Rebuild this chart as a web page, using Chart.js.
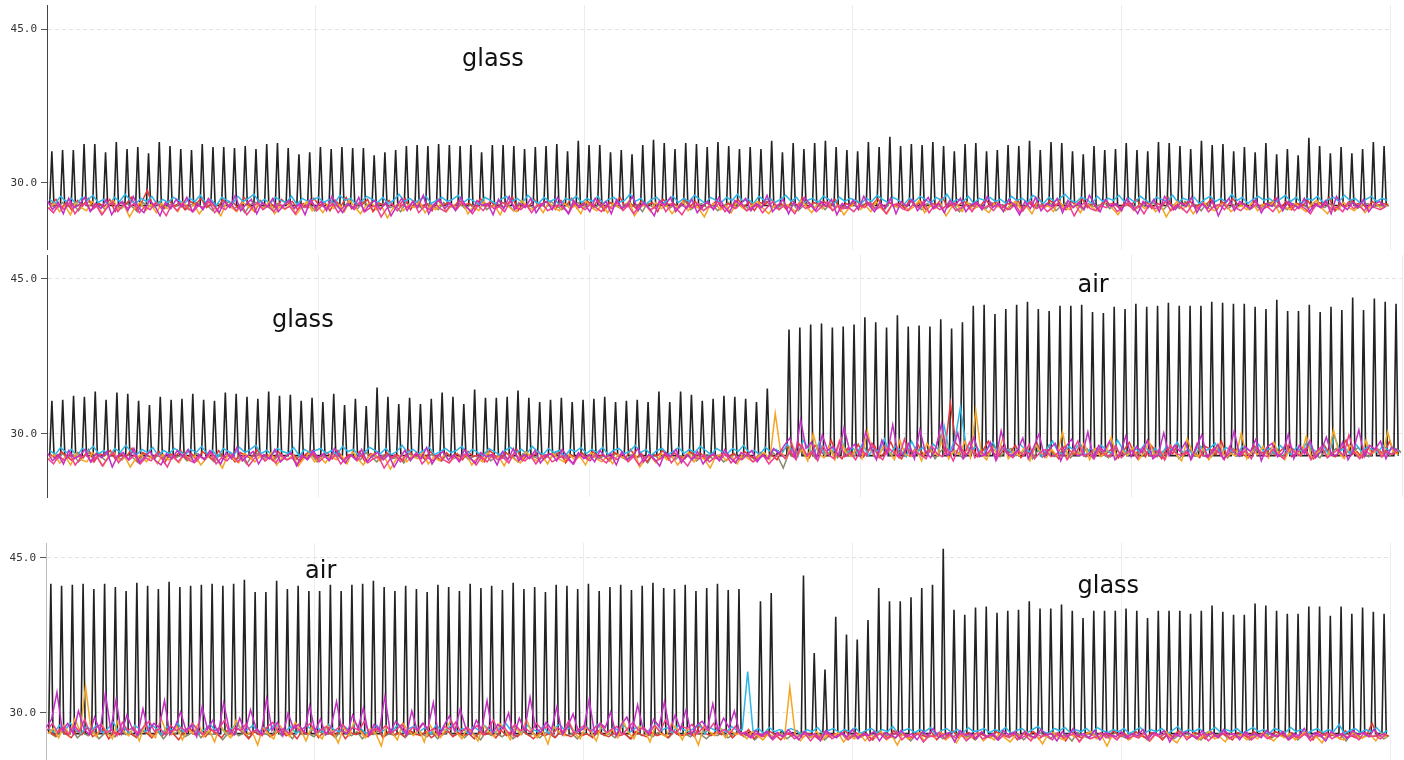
<!DOCTYPE html>
<html><head><meta charset="utf-8">
<script src="https://cdn.jsdelivr.net/npm/chart.js"></script>
<style>
html,body{margin:0;padding:0;background:#fff;width:1404px;height:760px;overflow:hidden;}
.panel{position:absolute;left:0;width:1404px;}
</style></head><body>
<div class="panel" style="top:0;height:250px"><canvas id="c1"></canvas></div>
<div class="panel" style="top:250px;height:250px"><canvas id="c2"></canvas></div>
<div class="panel" style="top:520px;height:240px"><canvas id="c3"></canvas></div>
<script>
// ---------- DATA ----------
const yTickValues = [30, 45];
const periods = 125;          // heating cycles per panel
const samplesPerCycle = 2;    // coloured channels are sampled twice per cycle

// black series: spike peak per cycle (cycles without a spike keep the baseline value)
const p1Black = [33.1,33.2,33.2,33.8,33.8,33.0,34.0,33.3,33.5,32.9,34.0,33.6,33.3,33.2,33.8,33.5,33.5,33.4,33.6,33.3,33.8,33.9,33.4,32.8,33.0,
33.5,33.3,33.5,33.4,33.4,32.7,33.0,33.2,33.6,33.7,33.6,33.8,33.7,33.6,33.7,33.0,33.7,33.7,33.6,33.3,33.5,33.6,33.8,33.1,34.1,
33.7,33.7,33.0,33.2,32.8,33.7,34.2,33.9,33.3,33.9,33.8,33.5,34.0,33.6,33.3,33.5,33.3,34.1,33.0,33.9,33.3,33.9,34.1,33.5,33.2,
33.1,34.0,33.5,34.5,33.6,33.8,33.7,34.0,33.6,33.1,33.8,33.9,33.1,33.2,33.7,33.6,34.1,33.2,34.0,33.9,33.1,32.8,33.6,33.2,33.3,
33.9,33.2,33.1,34.0,33.9,33.6,33.3,34.1,33.7,33.8,33.1,33.5,33.0,33.9,32.8,33.3,32.7,34.4,33.6,32.9,33.5,32.9,33.3,34.0,33.6];
const p2Black = [33.2,33.3,33.7,33.6,34.1,33.3,34.0,33.9,33.2,32.8,33.6,33.3,33.4,33.9,33.3,33.2,34.0,33.9,33.6,33.4,34.1,33.7,33.8,33.2,33.5,
33.1,33.9,32.8,33.4,32.7,34.5,33.6,32.9,33.5,32.9,33.4,34.0,33.6,32.9,34.3,33.5,33.5,33.6,34.2,33.5,33.1,33.3,33.5,33.1,33.3,
33.4,33.6,33.1,33.2,33.3,33.1,34.1,33.1,34.1,33.8,33.2,33.4,33.7,33.6,33.4,33.1,34.4,28.3,40.1,40.3,40.6,40.7,40.3,40.4,40.6,
41.3,40.8,40.3,41.5,40.4,40.5,40.4,41.1,40.2,40.8,42.4,42.5,41.6,42.1,42.5,42.8,42.1,41.9,42.4,42.4,42.5,41.8,41.7,42.3,42.1,
42.6,42.3,42.4,42.7,42.4,42.4,42.4,42.8,42.7,42.6,42.6,42.3,42.1,43.0,41.9,41.9,42.5,41.8,42.3,42.0,43.2,42.0,43.1,42.8,42.6];
const p3Black = [42.5,42.3,42.4,42.5,42.0,42.5,42.2,41.8,42.6,42.3,42.0,42.7,42.2,42.3,42.4,42.5,42.3,42.5,42.9,41.7,41.7,42.8,42.0,42.3,41.8,
41.8,42.4,41.8,42.4,42.5,42.8,42.2,41.8,42.3,42.0,41.7,42.4,42.2,41.8,42.5,42.1,42.3,41.9,42.6,42.0,42.2,41.7,42.4,42.3,42.0,
42.5,41.8,42.2,42.4,41.9,42.3,42.6,42.1,42.0,42.4,41.8,42.1,42.5,41.9,42.0,28.2,40.8,41.6,28.3,28.1,43.3,35.8,34.2,39.3,37.6,
37.1,39.0,42.1,40.8,40.8,41.2,42.1,42.4,45.9,40.0,39.5,40.2,40.3,39.7,39.9,40.0,40.8,40.1,40.1,40.5,39.9,39.2,39.9,39.9,39.9,
40.1,39.9,39.2,39.9,39.9,39.9,39.6,39.9,40.4,39.8,39.5,39.5,40.6,40.4,39.9,39.6,39.6,40.3,40.3,39.4,40.3,39.6,40.2,39.8,39.6];
const p1Base = 27.8, p2Base = 27.9, p3Base = 28.0;

// ---- panel 1 (glass) coloured channels ----
const p1Magenta = [28.3,27.4,28.1,27.0,28.5,27.6,27.9,28.6,27.2,28.0,27.5,28.4,26.9,27.8,28.2,27.3,28.7,27.6,27.1,28.3,27.8,26.8,28.1,27.5,28.4,
27.7,28.6,27.2,28.0,27.4,28.5,27.9,27.1,28.2,27.6,28.8,27.3,27.9,28.4,27.0,28.1,27.7,28.5,27.2,27.8,28.3,27.5,28.0,26.9,28.4,
27.6,28.2,27.3,28.7,27.8,27.1,28.0,27.5,28.6,27.2,27.9,28.3,27.4,28.1,26.8,27.7,28.5,27.3,28.2,27.6,28.8,27.0,27.9,28.4,27.5,
28.1,27.3,28.6,27.7,27.2,28.3,27.8,28.0,26.9,28.4,27.5,28.7,27.4,28.0,27.6,28.5,27.1,27.9,28.2,27.4,28.6,27.8,27.0,28.3,27.6,
28.0,27.2,28.5,27.7,28.2,27.0,28.4,27.5,27.9,28.7,27.3,28.1,27.6,26.8,28.3,27.8,28.6,27.2,28.0,27.5,28.4,27.1,27.8,28.2,27.4,
28.6,27.7,27.1,28.3,27.9,28.5,27.3,28.0,27.6,28.8,27.2,27.8,28.4,27.0,28.1,27.5,28.6,27.9,27.3,28.2,27.7,28.4,26.9,28.0,27.6,
28.3,27.4,28.7,27.8,27.2,28.1,27.6,28.5,27.0,28.2,27.7,28.4,27.3,27.9,28.6,27.5,28.0,27.1,28.3,27.8,28.5,27.2,27.9,28.1,27.4,
28.7,27.6,28.0,27.2,28.4,27.8,26.9,28.2,27.5,28.6,27.3,28.0,27.7,28.5,27.1,28.3,27.6,28.1,27.4,28.8,27.9,27.2,28.4,27.7,28.0,
27.3,28.5,27.8,27.0,28.2,27.6,28.4,27.2,28.7,27.9,27.4,28.1,27.7,28.6,27.1,28.0,27.5,28.3,26.8,27.9,28.5,27.3,28.2,27.8,27.5,
28.4,27.1,28.0,27.7,28.6,27.3,28.2,27.9,27.5,28.5,27.2,28.0,27.6,28.3,27.0,28.7,27.8,27.4,28.1,27.6,28.4,27.2,27.9,28.2,27.7];
const p1Orange = [27.5,28.0,27.2,27.8,26.9,28.1,27.6,27.3,28.2,27.7,27.0,27.9,28.3,27.4,27.8,26.7,27.6,28.1,27.3,27.9,27.1,28.0,27.5,27.8,27.2,
28.2,27.4,27.9,27.0,27.7,28.3,27.5,26.8,28.0,27.6,27.2,28.1,27.8,27.3,27.9,27.5,28.2,27.0,27.7,27.4,28.0,26.9,27.6,28.2,27.3,
27.8,27.1,28.0,27.5,27.9,27.2,28.3,27.6,27.0,27.8,28.1,27.4,27.7,26.6,27.5,28.0,27.3,27.9,27.6,28.2,27.1,27.8,27.4,28.0,27.2,
27.9,27.5,28.1,27.0,27.7,27.3,28.2,27.6,27.8,26.9,28.0,27.5,27.2,28.3,27.7,27.4,27.9,27.1,28.1,27.6,27.3,28.0,27.5,27.8,27.0,
28.2,27.6,27.3,27.9,27.1,28.0,27.7,27.4,28.3,26.8,27.6,27.9,27.2,28.1,27.5,27.8,27.0,27.7,28.2,27.3,27.9,27.5,26.7,27.8,28.0,
27.4,27.8,27.1,28.1,27.6,27.3,27.9,28.2,27.5,27.0,27.8,27.4,28.0,27.6,27.2,28.3,27.7,27.1,27.9,27.5,28.1,27.3,27.8,26.9,27.6,
28.0,27.4,27.8,27.2,28.2,27.5,27.0,27.9,27.6,28.1,27.3,27.7,28.3,27.1,27.8,27.5,28.0,26.8,27.6,27.9,27.2,28.1,27.4,27.8,27.5,
27.1,28.0,27.6,27.3,27.9,28.2,27.4,27.7,27.0,28.1,27.5,27.8,27.2,28.3,27.6,27.4,27.9,27.1,28.0,27.7,27.3,27.8,28.2,27.5,26.9,
27.7,28.1,27.3,27.9,27.5,28.0,27.2,27.8,26.7,27.6,28.2,27.4,27.9,27.0,27.7,28.1,27.5,27.3,27.9,28.0,27.2,27.6,27.8,27.4,28.1,
27.3,27.9,27.6,28.2,27.1,27.7,27.4,28.0,27.6,27.2,27.9,28.3,27.5,27.0,27.8,27.4,28.1,27.6,27.3,27.9,27.1,27.7,28.0,27.5,27.8];
const p1Cyan = [28.4,28.0,28.7,28.2,28.5,27.9,28.6,28.3,28.8,28.1,28.4,27.8,28.6,28.2,28.9,28.3,28.0,28.5,28.2,28.7,27.9,28.4,28.1,28.6,28.3,
28.0,28.5,28.2,28.8,28.1,28.4,27.8,28.6,28.3,28.0,28.7,28.2,28.5,28.9,28.1,28.4,28.0,28.6,28.3,28.1,28.7,27.9,28.5,28.2,28.4,
28.6,28.1,28.4,28.0,28.8,28.3,28.5,27.9,28.2,28.7,28.4,28.1,28.6,28.0,28.3,28.9,28.2,28.5,28.1,28.4,28.7,28.0,28.3,28.6,28.2,
28.4,28.8,28.1,28.5,28.2,27.9,28.6,28.3,28.0,28.4,28.7,28.2,28.5,28.1,28.8,28.3,28.0,28.6,28.2,28.4,27.8,28.5,28.3,28.7,28.1,
28.5,28.2,28.7,28.0,28.4,28.6,28.1,28.3,28.9,28.2,28.5,27.9,28.4,28.6,28.0,28.3,28.7,28.1,28.5,28.2,28.8,28.4,28.0,28.6,28.3,
28.1,28.6,28.3,28.9,28.2,28.4,28.0,28.7,28.3,28.5,28.1,28.4,28.8,28.2,28.6,27.9,28.3,28.5,28.1,28.7,28.4,28.0,28.6,28.2,28.5,
28.3,28.0,28.5,28.2,28.8,28.4,28.1,28.6,28.3,27.9,28.5,28.2,28.7,28.4,28.0,28.6,28.3,28.9,28.1,28.4,28.2,28.7,28.0,28.5,28.3,
28.6,28.2,28.4,28.0,28.7,28.3,28.5,28.1,28.8,28.4,28.0,28.6,28.2,28.5,28.9,28.3,28.1,28.6,28.4,28.0,28.7,28.2,28.5,28.3,28.8,
28.2,28.5,28.1,28.7,28.3,28.0,28.6,28.4,28.2,28.8,28.1,28.5,28.3,28.6,28.0,28.4,28.7,28.2,28.5,28.1,28.9,28.3,28.6,28.0,28.4,
28.7,28.3,28.5,28.1,28.4,28.8,28.2,28.6,28.0,28.5,28.3,28.7,28.1,28.4,28.6,28.2,28.8,28.3,28.5,28.0,28.4,28.7,28.2,28.5,28.3];
const p1Red = [27.9,28.4,27.6,28.1,27.3,28.3,27.8,28.5,27.5,28.0,27.7,28.4,27.2,28.1,27.9,28.6,27.4,28.2,29.3,27.8,28.0,27.5,28.3,27.7,28.1,
27.4,28.2,27.9,28.5,27.6,28.0,27.3,28.4,27.8,28.1,27.5,28.6,27.9,27.2,28.3,27.7,28.0,27.5,28.4,27.9,28.2,27.4,28.0,27.6,28.5,
27.8,28.1,27.3,28.3,27.7,28.6,27.5,28.0,27.9,28.4,27.2,28.1,27.8,28.3,27.6,27.9,28.5,27.4,28.2,27.7,28.0,27.3,28.4,27.8,28.1,
27.6,28.3,27.9,28.0,27.4,28.5,27.8,28.2,27.5,28.1,27.9,28.6,27.3,28.0,27.7,28.4,27.6,28.2,27.9,27.4,28.3,27.8,28.5,27.5,28.0,
28.2,27.7,28.4,27.3,28.1,27.9,28.6,27.6,28.0,27.5,28.3,27.8,28.1,27.2,28.4,27.9,28.0,27.6,28.5,27.7,28.2,27.4,28.1,27.8,28.3,
27.5,28.0,27.8,28.4,27.6,28.2,27.3,28.1,27.9,28.5,27.7,28.0,27.4,28.3,27.8,28.6,27.5,28.1,27.9,28.2,27.6,28.4,27.3,28.0,27.8,
28.3,27.6,28.1,27.9,28.5,27.4,28.2,27.7,28.0,27.5,28.4,27.8,28.2,27.3,28.0,27.9,28.6,27.6,28.1,27.8,28.3,27.5,28.0,27.7,28.4,
27.8,28.2,27.5,28.0,27.9,28.4,27.3,28.1,27.7,28.5,27.6,28.3,27.9,28.0,27.4,28.2,27.8,28.5,27.6,28.1,27.3,28.3,27.9,28.0,27.5,
28.1,27.7,28.4,27.9,28.2,27.5,28.0,27.8,28.6,27.4,28.1,27.9,28.3,27.6,28.0,27.8,28.4,27.3,28.2,27.7,28.5,27.9,28.0,27.6,28.3,
27.7,28.0,27.9,28.5,27.6,28.2,27.4,28.0,27.8,28.3,27.5,28.1,27.9,28.6,27.3,28.0,27.7,28.4,27.9,28.1,27.5,28.2,27.8,28.0,27.9];
const p1Gray = [27.8,27.5,28.1,27.7,28.0,27.3,27.9,28.2,27.6,27.9,27.4,28.1,27.8,27.5,28.0,27.7,27.2,28.1,27.8,27.6,28.2,27.5,27.9,27.7,28.0,
27.4,27.9,28.1,27.6,27.8,27.3,28.0,27.7,28.2,27.5,27.8,27.1,27.9,28.1,27.6,27.8,27.4,28.0,27.7,28.2,27.5,27.9,27.6,28.0,27.3,
27.9,27.6,28.1,27.8,27.4,28.0,27.7,27.5,28.2,27.8,27.3,27.9,28.0,27.6,27.8,27.2,28.1,27.7,27.9,27.5,28.0,27.8,27.4,28.1,27.6,
27.8,28.0,27.5,27.9,27.7,28.2,27.4,27.8,28.0,27.6,27.9,27.3,28.1,27.7,27.8,27.5,28.0,27.6,28.2,27.8,27.4,27.9,27.7,28.1,27.5,
28.0,27.6,27.9,27.4,28.1,27.8,27.5,28.0,27.7,27.9,27.2,28.1,27.6,27.8,28.0,27.5,27.9,27.7,28.2,27.4,27.8,28.0,27.6,27.9,27.3,
27.7,28.1,27.5,27.9,27.8,27.4,28.0,27.6,28.2,27.8,27.5,27.9,27.7,28.0,27.3,27.8,28.1,27.6,27.9,27.4,28.0,27.7,27.8,27.5,28.1,
27.6,27.9,28.0,27.5,27.8,27.3,28.1,27.7,27.9,27.6,28.2,27.8,27.4,28.0,27.7,27.9,27.5,28.1,27.8,27.2,27.9,28.0,27.6,27.8,27.5,
28.1,27.7,27.9,27.4,28.0,27.8,27.6,28.2,27.5,27.9,27.7,28.0,27.3,27.8,28.1,27.6,27.9,27.4,28.0,27.7,27.8,28.1,27.5,27.9,27.6,
27.8,28.0,27.5,27.9,27.6,28.1,27.7,27.4,28.0,27.8,27.5,28.2,27.7,27.9,27.3,28.0,27.6,27.8,28.1,27.5,27.9,27.7,28.0,27.4,27.8,
27.5,27.9,28.1,27.6,27.8,27.4,28.0,27.7,27.9,27.5,28.1,27.8,27.6,28.0,27.3,27.9,27.7,28.2,27.5,27.8,28.0,27.6,27.9,27.7,27.8];
const p1Pink = [27.6,27.1,27.9,27.4,28.1,27.0,27.7,28.0,27.3,27.8,26.9,27.6,28.2,27.2,27.9,27.5,28.0,27.1,27.7,27.4,28.1,27.6,26.8,27.9,27.3,
28.0,27.5,27.2,27.8,27.6,28.2,27.1,27.7,27.4,28.0,27.3,27.9,26.9,27.6,28.1,27.4,27.8,27.2,28.0,27.5,27.7,27.0,27.9,27.6,28.2,
27.3,27.8,27.5,28.0,27.1,27.7,27.9,27.4,28.1,27.2,27.6,27.8,26.7,27.5,28.0,27.3,27.9,27.6,28.2,27.1,27.7,27.4,28.0,27.5,27.2,
27.9,27.4,28.1,27.6,27.0,27.8,27.3,28.0,27.5,27.7,27.2,28.2,27.6,27.4,27.9,27.1,27.8,28.0,27.3,27.6,27.9,27.5,27.1,28.1,27.7,
27.4,28.0,27.6,27.2,27.9,27.5,28.1,27.3,27.8,27.0,27.7,28.0,27.4,27.6,28.2,27.2,27.9,27.5,26.9,27.8,27.6,28.0,27.3,27.7,27.5,
28.1,27.2,27.8,27.5,28.0,27.3,27.6,27.9,27.1,27.7,28.2,27.4,27.8,27.6,27.0,28.0,27.5,27.9,27.2,27.7,28.1,27.3,27.8,27.5,27.6,
27.2,27.9,27.6,28.1,27.4,27.7,27.0,27.8,28.0,27.5,27.3,27.9,27.6,28.2,27.1,27.8,27.4,27.7,28.0,27.3,27.6,27.9,27.2,28.1,27.5,
27.8,27.3,28.0,27.6,27.4,27.9,27.1,27.7,28.2,27.5,27.8,27.2,27.6,28.0,27.4,27.9,26.8,27.7,28.1,27.5,27.3,27.8,27.6,28.0,27.2,
27.6,28.1,27.4,27.8,27.0,27.9,27.5,27.7,28.2,27.3,27.8,27.6,27.1,27.9,27.5,28.0,27.2,27.7,27.9,27.4,28.1,27.6,27.3,27.8,27.5,
28.0,27.4,27.7,27.2,27.9,27.6,28.1,27.3,27.8,27.5,27.0,27.9,27.6,28.0,27.4,27.7,27.2,28.1,27.5,27.8,27.3,27.9,27.6,27.4,27.7];

// ---- panel 2 (glass -> air) ----
const p2Magenta = [28.2,27.4,28.0,27.1,28.4,27.6,27.9,28.5,27.3,28.1,27.7,28.3,26.8,27.9,28.2,27.5,28.6,27.2,27.8,28.3,27.4,27.0,28.1,27.6,28.4,
27.8,28.5,27.3,28.0,27.5,28.4,27.8,27.1,28.2,27.6,28.7,27.4,27.9,28.3,27.1,28.0,27.6,28.5,27.3,27.8,28.2,26.9,28.0,27.5,28.4,
27.7,28.1,27.4,28.6,27.8,27.2,28.0,27.5,28.5,27.3,27.9,28.2,27.5,28.0,26.8,27.7,28.4,27.4,28.1,27.6,28.7,27.1,27.9,28.3,27.5,
28.0,27.3,28.5,27.7,27.2,28.2,27.8,28.0,27.0,28.3,27.5,28.6,27.4,28.0,27.6,28.4,27.2,27.9,28.1,27.4,28.5,27.8,27.1,28.2,27.6,
28.0,27.3,28.4,27.7,28.1,27.0,28.3,27.5,27.9,28.6,27.3,28.0,27.6,26.9,28.2,27.8,28.5,27.2,28.0,27.5,28.3,27.1,27.8,28.1,27.4,
28.5,27.7,27.2,28.2,27.9,28.4,27.3,28.0,27.6,28.6,28.1,28.9,29.6,27.8,31.4,28.6,29.2,27.7,29.9,28.4,28.8,27.9,30.6,28.5,29.0,
27.8,30.2,28.7,27.5,29.4,28.0,30.9,27.9,28.1,29.1,27.6,30.4,28.3,27.7,28.7,31.0,27.9,28.4,30.1,27.6,28.2,29.7,27.8,28.0,29.2,
27.5,30.3,28.2,27.9,28.4,29.6,27.6,28.7,30.0,27.8,28.6,29.1,27.4,28.8,29.5,27.9,28.0,30.2,27.7,28.9,28.3,29.3,27.5,28.1,29.8,
27.8,28.8,28.2,29.4,27.6,28.0,30.1,27.9,28.9,28.3,29.2,27.5,28.7,29.9,27.8,28.2,29.0,27.6,28.1,30.3,27.9,28.8,28.3,29.5,27.4,
28.7,29.1,27.8,28.2,30.0,27.6,28.9,28.1,29.4,27.7,28.3,29.7,27.9,28.0,29.2,27.5,28.4,30.4,27.8,28.9,28.5,29.3,27.6,28.7,28.4];
const p2Orange = [27.6,28.0,27.2,27.8,27.0,28.1,27.5,27.3,28.2,27.7,26.9,27.9,28.2,27.4,27.8,26.8,27.6,28.0,27.3,27.9,27.1,28.0,27.5,27.7,27.2,
28.1,27.4,27.9,27.0,27.6,28.2,27.5,26.7,28.0,27.6,27.2,28.1,27.8,27.3,27.9,27.4,28.2,27.0,27.7,27.5,28.0,26.9,27.6,28.1,27.3,
27.8,27.2,28.0,27.5,27.9,27.1,28.3,27.6,27.0,27.8,28.1,27.4,27.7,26.6,27.5,28.0,27.3,27.9,27.6,28.2,27.1,27.8,27.4,28.0,27.3,
27.9,27.5,28.1,27.0,27.7,27.3,28.2,27.6,27.8,26.9,28.0,27.5,27.2,28.3,27.7,27.4,27.9,27.1,28.1,27.6,27.3,28.0,27.5,27.8,27.0,
28.2,27.6,27.3,27.9,27.1,28.0,27.7,27.4,28.3,26.8,27.6,27.9,27.2,28.1,27.5,27.8,27.0,27.7,28.2,27.3,27.9,27.5,26.7,27.8,28.0,
27.4,27.8,27.1,28.1,27.6,27.3,27.9,28.2,27.5,32.0,28.3,27.6,29.2,27.9,28.5,27.4,30.0,28.1,27.7,28.8,27.5,29.5,28.2,27.8,28.6,
27.6,30.3,28.0,27.7,28.9,28.3,27.5,29.4,28.0,27.8,28.6,27.4,29.1,28.2,27.9,30.1,27.6,28.4,28.0,29.3,27.7,32.3,28.1,27.5,28.8,
28.0,29.6,27.6,28.3,27.9,28.7,27.4,29.0,28.2,27.7,28.5,27.9,30.2,27.6,28.3,28.0,29.1,27.5,28.6,27.8,28.2,29.7,27.6,28.4,27.9,
28.7,27.5,28.1,29.3,27.8,28.4,27.6,28.9,28.0,27.4,29.5,28.2,27.8,28.6,27.5,28.3,29.0,27.7,28.1,27.9,30.1,27.6,28.4,28.0,28.8,
27.7,29.2,28.0,27.5,28.6,28.3,27.9,29.8,27.6,28.2,28.5,27.8,30.4,28.1,27.6,28.9,28.3,27.7,29.4,28.0,28.6,27.8,30.2,28.3,28.0];
const p2Cyan = [28.4,28.0,28.7,28.2,28.5,27.9,28.6,28.3,28.8,28.1,28.4,27.8,28.6,28.2,28.9,28.3,28.0,28.5,28.2,28.7,27.9,28.4,28.1,28.6,28.3,
28.0,28.5,28.2,28.8,28.1,28.4,27.8,28.6,28.3,28.0,28.7,28.2,28.5,28.9,28.1,28.4,28.0,28.6,28.3,28.1,28.7,27.9,28.5,28.2,28.4,
28.6,28.1,28.4,28.0,28.8,28.3,28.5,27.9,28.2,28.7,28.4,28.1,28.6,28.0,28.3,28.9,28.2,28.5,28.1,28.4,28.7,28.0,28.3,28.6,28.2,
28.4,28.8,28.1,28.5,28.2,27.9,28.6,28.3,28.0,28.4,28.7,28.2,28.5,28.1,28.8,28.3,28.0,28.6,28.2,28.4,27.8,28.5,28.3,28.7,28.1,
28.5,28.2,28.7,28.0,28.4,28.6,28.1,28.3,28.9,28.2,28.5,27.9,28.4,28.6,28.0,28.3,28.7,28.1,28.5,28.2,28.8,28.4,28.0,28.6,28.3,
28.1,28.6,28.3,28.9,28.2,28.4,28.0,28.7,28.3,28.5,28.0,29.0,28.4,27.8,29.4,28.6,28.1,29.2,27.9,28.8,28.3,29.6,28.0,28.7,28.2,
29.1,27.9,28.6,28.3,29.5,28.0,28.8,28.4,27.8,29.3,28.2,28.7,28.0,29.0,28.5,30.8,28.2,29.4,32.6,29.0,28.4,28.8,27.9,28.6,29.2,
28.1,28.7,28.4,27.9,29.0,28.5,28.2,28.9,27.8,28.6,29.3,28.3,28.0,28.8,28.4,29.1,27.9,28.6,28.2,28.9,28.4,28.1,29.4,28.5,28.0,
28.7,28.3,29.0,28.1,28.6,27.9,28.8,28.4,29.2,28.2,28.5,28.0,28.9,28.3,28.6,29.1,28.1,28.7,28.4,27.9,28.8,28.5,28.2,29.0,28.3,
28.6,28.1,28.9,28.4,28.0,28.7,28.3,29.3,28.5,28.2,28.8,28.0,29.8,28.4,28.6,28.1,29.0,28.3,28.7,28.5,28.2,28.9,28.4,28.6,28.3];
const p2Red = [28.0,27.6,28.3,27.8,27.4,28.2,27.7,28.5,27.3,28.1,27.9,28.4,27.5,28.0,27.8,28.6,27.4,28.2,27.9,27.6,28.3,27.2,28.1,27.8,28.4,
27.6,28.1,27.4,28.3,27.9,27.5,28.4,27.7,28.0,27.3,28.2,27.9,27.6,28.5,27.8,28.0,27.4,28.3,27.7,28.1,27.9,27.3,28.0,28.4,27.6,
27.9,28.2,27.6,28.4,27.5,28.0,27.8,28.3,27.3,28.1,27.9,27.5,28.2,27.7,28.0,27.4,28.5,27.8,28.1,27.6,28.3,27.9,27.4,28.2,27.7,
28.1,27.5,28.3,27.8,28.0,27.3,28.4,27.9,27.6,28.2,27.7,28.5,27.4,28.0,27.9,28.3,27.5,28.1,27.8,28.4,27.2,28.0,27.7,28.2,27.6,
28.3,27.8,28.0,27.4,28.2,27.9,27.6,28.5,27.7,28.1,27.3,28.0,27.9,28.4,27.5,28.2,27.8,27.6,28.3,27.9,28.1,27.4,28.0,27.7,28.2,
27.8,28.1,27.5,28.3,27.9,27.6,28.2,27.7,28.0,27.5,28.4,28.8,27.8,29.1,28.2,27.7,28.9,28.3,27.9,29.4,28.1,27.6,28.6,28.0,29.0,
27.8,28.5,28.9,27.7,28.3,29.2,28.0,27.6,28.7,28.2,29.0,27.9,28.4,28.1,30.0,28.3,33.0,29.1,28.6,28.0,28.8,27.8,28.4,29.3,28.1,
27.9,28.6,28.2,28.9,27.7,28.3,28.0,29.1,27.8,28.5,28.2,27.6,28.8,28.4,28.0,29.0,27.8,28.3,28.6,27.9,28.2,28.7,27.7,28.4,29.2,
28.0,28.5,27.8,28.9,28.3,27.6,28.7,28.1,29.0,27.9,28.4,28.2,27.7,28.8,28.5,28.0,29.3,27.8,28.2,28.6,28.0,27.7,28.9,28.3,28.1,
28.6,27.9,28.4,29.0,27.8,28.2,28.7,28.0,27.6,28.5,28.9,28.1,27.8,28.4,29.4,28.0,28.3,27.7,28.8,28.2,28.5,27.9,29.3,28.1,28.4];
const p2Gray = [27.9,27.5,28.1,27.7,28.0,27.3,27.9,28.2,27.6,27.9,27.4,28.1,27.8,27.5,28.0,27.7,27.2,28.1,27.8,27.6,28.2,27.5,27.9,27.7,28.0,
27.4,27.9,28.1,27.6,27.8,27.3,28.0,27.7,28.2,27.5,27.8,27.1,27.9,28.1,27.6,27.8,27.4,28.0,27.7,28.2,27.5,27.9,27.6,28.0,27.3,
27.9,27.6,28.1,27.8,27.4,28.0,27.7,27.5,28.2,27.8,27.3,27.9,28.0,27.6,27.8,27.2,28.1,27.7,27.9,27.5,28.0,27.8,27.4,28.1,27.6,
27.8,28.0,27.5,27.9,27.7,28.2,27.4,27.8,28.0,27.6,27.9,27.3,28.1,27.7,27.8,27.5,28.0,27.6,28.2,27.8,27.4,27.9,27.7,28.1,27.5,
28.0,27.6,27.9,27.4,28.1,27.8,27.5,28.0,27.7,27.9,27.2,28.1,27.6,27.8,28.0,27.5,27.9,27.7,28.2,27.4,27.8,28.0,27.6,27.9,27.3,
27.7,28.1,27.5,27.9,27.8,27.4,28.0,27.6,28.2,27.8,26.7,28.1,27.8,28.5,27.9,28.3,27.6,28.7,28.0,28.4,27.7,28.9,28.2,27.8,28.5,
28.0,28.6,27.7,28.3,28.9,27.9,28.4,28.1,29.1,27.8,28.5,28.0,28.7,27.6,28.3,28.8,28.0,28.4,27.7,28.6,28.2,27.9,28.5,28.0,28.8,
27.8,28.3,28.6,27.9,28.1,28.7,27.6,28.4,28.0,28.9,27.8,28.2,28.5,27.7,28.3,28.0,28.6,27.9,28.4,28.1,27.7,28.8,28.2,28.0,28.5,
27.9,28.4,28.1,28.7,27.8,28.3,28.0,28.6,27.6,28.2,28.5,27.9,28.8,28.1,27.8,28.4,28.2,27.7,28.6,28.0,28.3,27.9,28.7,28.1,28.4,
28.0,28.5,27.8,28.3,28.6,27.9,28.2,28.8,28.0,27.7,28.4,28.1,28.6,27.9,28.3,28.0,28.7,28.2,27.8,28.5,28.1,28.4,27.9,28.6,28.2];
const p2Pink = [27.6,27.1,27.9,27.4,28.1,27.0,27.7,28.0,27.3,27.8,26.9,27.6,28.2,27.2,27.9,27.5,28.0,27.1,27.7,27.4,28.1,27.6,26.8,27.9,27.3,
28.0,27.5,27.2,27.8,27.6,28.2,27.1,27.7,27.4,28.0,27.3,27.9,26.9,27.6,28.1,27.4,27.8,27.2,28.0,27.5,27.7,27.0,27.9,27.6,28.2,
27.3,27.8,27.5,28.0,27.1,27.7,27.9,27.4,28.1,27.2,27.6,27.8,26.7,27.5,28.0,27.3,27.9,27.6,28.2,27.1,27.7,27.4,28.0,27.5,27.2,
27.9,27.4,28.1,27.6,27.0,27.8,27.3,28.0,27.5,27.7,27.2,28.2,27.6,27.4,27.9,27.1,27.8,28.0,27.3,27.6,27.9,27.5,27.1,28.1,27.7,
27.4,28.0,27.6,27.2,27.9,27.5,28.1,27.3,27.8,27.0,27.7,28.0,27.4,27.6,28.2,27.2,27.9,27.5,26.9,27.8,27.6,28.0,27.3,27.7,27.5,
28.1,27.2,27.8,27.5,28.0,27.3,27.6,27.9,27.1,27.7,28.2,27.6,28.4,27.5,29.0,27.9,28.3,27.4,28.8,28.0,27.6,29.3,27.8,28.2,27.5,
28.6,27.9,29.1,28.0,27.5,28.7,28.2,27.7,29.5,27.9,28.3,28.0,27.6,28.9,28.1,27.8,28.5,27.4,28.7,28.0,29.2,27.7,28.3,27.9,28.6,
27.5,28.8,28.1,27.7,28.4,27.9,29.0,27.6,28.2,28.5,27.8,28.0,28.7,27.5,28.3,29.3,27.9,28.1,27.6,28.6,28.0,27.8,28.9,27.7,28.2,
28.4,27.6,28.7,28.0,27.8,28.5,27.5,28.9,28.2,27.9,28.3,27.6,29.1,28.0,27.7,28.6,28.2,27.5,28.8,28.1,27.9,28.4,27.6,28.7,28.0,
27.8,28.5,28.0,27.6,29.0,28.2,27.9,28.6,27.5,28.3,28.8,27.7,28.1,28.5,27.9,29.9,28.2,27.6,28.4,28.0,28.7,27.8,28.3,28.0,28.5];

// ---- panel 3 (air -> glass) ----
const p3Magenta = [28.6,29.4,32.0,28.3,29.0,28.0,30.2,28.5,27.9,29.6,28.2,31.9,28.4,31.3,28.0,29.8,28.5,27.8,30.4,28.2,29.0,28.6,31.2,27.9,28.7,
30.1,28.3,28.8,27.7,30.6,28.4,29.3,28.0,31.0,28.5,27.9,29.5,28.2,30.3,28.6,28.0,31.4,28.3,29.1,27.8,30.0,28.5,28.9,28.1,30.7,
28.2,29.4,27.9,28.7,31.1,28.3,28.0,29.8,28.5,30.5,27.8,28.9,28.4,31.6,28.1,29.2,28.6,27.9,30.2,28.3,29.0,28.5,31.0,27.8,28.8,
29.7,28.2,30.4,28.6,27.9,29.3,28.4,31.2,28.0,28.9,28.5,30.0,27.8,29.5,28.3,31.5,28.6,28.1,29.1,28.4,30.6,27.9,28.7,29.9,28.2,
28.5,31.3,28.0,29.0,28.6,30.1,27.8,28.9,29.6,28.3,30.8,28.5,28.0,29.4,28.7,31.1,28.2,29.8,28.4,30.3,27.9,28.8,29.2,28.5,30.9,
28.3,29.5,28.6,30.2,28.1,28.0,27.6,28.3,27.8,28.2,27.5,28.1,27.7,28.4,27.9,27.4,28.2,27.8,28.0,27.3,28.3,27.9,27.6,28.1,27.7,
28.4,27.5,28.0,27.8,28.2,27.3,28.1,27.9,27.6,28.3,27.7,28.0,27.4,28.2,27.8,28.5,27.6,27.9,28.1,27.2,28.3,27.8,28.0,27.5,28.2,
27.7,28.0,27.4,28.3,27.9,28.1,27.5,28.2,27.8,27.6,28.4,27.9,28.0,27.3,28.2,27.7,28.5,27.8,28.0,27.6,28.3,27.4,28.1,27.9,27.7,
28.2,27.6,28.0,27.8,28.4,27.5,28.1,27.9,28.3,27.2,28.0,27.7,28.2,27.9,27.5,28.3,27.8,28.1,27.6,28.4,27.9,28.0,27.4,28.2,27.8,
28.0,27.6,28.3,27.9,27.7,28.2,27.4,28.0,27.8,28.5,27.6,28.1,27.9,27.3,28.2,27.8,28.0,27.5,28.3,27.9,28.1,27.7,28.4,27.8,28.0];
const p3Orange = [28.0,28.5,27.6,28.8,27.9,29.4,28.2,32.6,28.4,27.7,28.9,28.1,27.5,29.2,28.3,27.8,28.6,27.3,28.9,28.0,27.6,29.5,28.2,27.9,28.7,
27.4,28.5,28.0,29.0,27.7,28.3,27.2,28.8,28.1,27.6,29.3,28.4,27.9,28.2,26.9,28.6,28.0,27.5,28.9,28.2,27.7,29.1,28.4,27.3,28.6,
28.0,27.5,28.8,28.2,27.1,28.6,27.8,29.2,28.3,27.6,28.5,28.0,26.8,28.7,28.1,27.4,29.0,28.3,27.8,28.5,27.2,28.9,28.0,27.6,28.4,
29.3,28.1,27.5,28.6,28.0,27.3,28.8,28.2,27.7,29.0,28.4,27.4,28.6,27.9,29.4,28.1,27.6,28.3,27.0,28.7,28.2,27.8,29.1,28.0,27.5,
28.6,28.2,27.3,28.9,27.9,28.4,27.6,29.2,28.1,27.5,28.7,28.3,27.2,28.8,28.0,27.7,29.0,28.4,27.4,28.5,28.1,26.9,28.7,28.2,27.8,
28.6,27.6,28.3,27.9,28.1,27.5,28.2,27.8,27.4,28.0,27.7,28.1,27.5,32.5,27.9,27.3,28.0,27.6,28.2,27.4,27.9,27.7,28.1,27.2,27.8,
27.5,28.0,27.3,27.9,27.6,28.2,27.4,27.8,26.9,28.0,27.5,27.7,28.1,27.3,27.9,27.6,28.2,27.4,27.8,27.1,28.0,27.5,27.7,28.1,27.3,
27.8,27.4,28.0,27.6,27.2,27.9,27.7,28.2,27.5,27.8,27.0,27.9,28.1,27.6,27.4,28.0,27.7,27.3,27.9,28.2,27.5,27.8,26.8,27.9,27.6,
28.0,27.4,27.8,27.6,28.1,27.3,27.9,27.7,28.2,27.5,27.1,27.9,27.6,28.0,27.4,27.8,28.2,27.5,27.7,27.2,28.0,27.6,27.9,27.4,27.8,
27.5,28.1,27.7,27.3,27.9,27.6,28.0,27.4,27.8,28.2,27.5,27.7,27.1,27.9,28.0,27.6,27.4,27.8,28.1,27.5,27.7,27.9,27.3,28.0,27.6];
const p3Cyan = [28.5,28.1,28.8,28.3,29.0,28.4,28.0,28.7,28.3,28.9,28.1,28.5,29.1,28.2,28.6,28.0,28.8,28.4,28.2,28.9,28.5,27.9,28.7,28.3,29.0,
28.2,28.6,28.8,28.0,28.4,28.9,28.3,28.7,27.9,28.5,29.0,28.2,28.4,28.8,28.1,28.6,28.3,28.9,28.5,28.2,28.7,28.0,28.4,28.8,28.3,
28.6,28.1,28.9,28.4,28.2,28.7,28.3,29.0,28.5,28.0,28.4,28.8,28.2,28.6,28.3,28.9,28.1,28.5,28.7,28.2,28.6,28.0,28.8,28.4,28.3,
28.9,28.2,28.5,28.0,28.7,28.3,28.8,28.4,28.1,28.6,29.0,28.3,28.5,28.1,28.8,28.4,28.2,28.7,28.0,28.5,28.9,28.3,28.6,28.1,28.4,
28.7,28.2,28.9,28.4,28.0,28.6,28.3,28.8,28.1,28.5,28.7,28.2,28.4,29.0,28.3,28.6,28.1,28.8,28.4,28.2,28.5,28.9,28.0,28.6,28.3,
28.5,28.1,28.7,28.3,28.4,34.0,28.2,28.5,28.0,28.6,28.2,28.4,28.1,28.5,28.3,27.9,28.4,28.2,28.6,28.0,28.3,28.5,28.1,28.4,28.2,
28.6,28.0,28.3,28.5,28.1,28.4,28.2,28.7,28.0,28.3,28.5,28.1,28.4,28.2,28.6,27.9,28.3,28.5,28.1,28.4,28.0,28.6,28.2,28.3,28.5,
28.1,28.4,28.2,28.6,28.0,28.3,28.5,28.1,28.4,28.7,28.2,28.0,28.5,28.3,28.6,28.1,28.4,28.2,28.5,28.0,28.6,28.3,28.1,28.4,28.2,
28.5,28.0,28.3,28.6,28.1,28.4,28.2,28.5,28.0,28.3,28.7,28.1,28.4,28.2,28.5,28.0,28.3,28.6,28.1,28.4,28.2,28.5,28.0,28.3,28.6,
28.2,28.4,28.0,28.5,28.3,28.1,28.6,28.2,28.4,28.0,28.3,28.5,28.1,28.4,28.2,28.9,28.0,28.3,28.5,28.1,28.4,28.2,28.6,28.0,28.3];
const p3Red = [28.2,27.8,28.5,28.0,27.6,28.3,27.9,28.6,27.7,28.1,28.4,27.5,28.2,27.9,28.6,28.0,27.7,28.4,28.1,27.6,28.3,27.8,28.5,28.0,27.4,
28.2,28.6,27.9,28.1,27.7,28.4,28.0,27.6,28.3,27.8,28.5,28.1,27.5,28.2,27.9,28.6,27.7,28.0,28.4,27.8,28.1,27.5,28.3,27.9,28.5,
27.6,28.2,28.0,27.8,28.4,27.5,28.1,27.9,28.3,27.7,28.0,28.5,27.6,28.2,27.9,28.1,27.7,28.3,28.0,27.8,28.2,27.6,28.0,27.9,28.3,
27.7,28.1,27.8,28.0,27.5,28.2,27.9,28.1,27.6,28.3,27.8,28.0,27.7,28.2,27.9,27.5,28.1,27.8,28.0,27.6,28.2,27.9,27.7,28.1,27.8,
28.0,27.6,28.3,27.9,27.7,28.1,27.8,28.0,27.5,28.2,27.9,27.7,28.1,27.8,28.0,27.6,28.2,27.9,27.8,28.1,27.7,28.9,28.0,27.8,28.1,
27.9,28.3,27.6,28.1,27.8,28.4,27.5,28.0,27.7,28.2,27.9,27.4,28.1,27.8,28.3,27.6,28.0,27.9,27.5,28.2,27.7,28.0,27.8,28.3,27.6,
28.1,27.7,28.0,27.4,28.2,27.9,27.6,28.3,27.8,28.0,27.5,28.1,27.9,27.7,28.2,27.4,28.0,27.8,28.3,27.6,27.9,28.1,27.5,28.0,27.8,
27.6,28.2,27.9,27.7,28.1,27.4,28.0,27.8,28.2,27.5,27.9,28.1,27.7,28.0,27.3,28.2,27.8,27.6,28.1,27.9,27.5,28.0,27.8,28.3,27.7,
28.0,27.5,28.2,27.8,27.6,28.1,27.9,27.4,28.0,27.7,28.3,27.8,27.6,28.1,27.9,27.5,28.2,27.7,28.0,27.8,27.4,28.1,27.9,27.6,28.2,
27.8,28.0,27.5,28.2,27.9,27.7,28.1,27.6,28.0,27.8,27.4,28.2,27.9,27.7,28.0,27.5,28.3,27.8,27.6,28.1,27.9,29.0,27.7,28.0,27.8];
const p3Gray = [28.0,27.7,28.2,27.9,28.4,27.6,28.1,27.8,28.3,27.5,28.0,28.2,27.7,28.4,27.9,28.1,27.6,28.3,28.0,27.8,28.2,27.5,28.1,27.9,28.4,
27.7,28.0,28.3,27.6,28.2,27.9,28.1,27.4,28.0,28.3,27.8,28.1,27.6,28.2,27.9,28.0,27.7,28.4,27.8,28.1,27.5,28.3,27.9,28.0,27.7,
28.2,27.9,28.1,27.6,28.3,28.0,27.8,28.2,27.5,28.1,27.9,28.3,27.7,28.0,27.8,28.1,27.6,28.2,27.9,28.0,27.7,28.1,27.5,27.9,28.2,
27.8,28.0,27.6,28.1,27.9,27.4,28.2,27.8,28.0,27.7,28.1,27.5,27.9,28.2,27.8,28.0,27.6,28.1,27.9,27.7,28.3,27.8,28.0,27.5,28.1,
27.9,27.7,28.2,27.8,28.0,27.6,28.1,27.9,27.5,28.2,27.8,28.0,27.7,28.1,27.9,27.6,28.2,27.8,28.0,27.7,28.1,27.9,27.5,28.0,27.8,
28.1,27.6,27.9,28.2,27.7,28.0,27.4,27.9,28.1,27.6,27.8,28.0,27.5,27.9,27.7,28.2,27.6,27.8,28.0,27.4,27.9,27.7,28.1,27.5,27.8,
27.6,28.0,27.8,27.4,28.1,27.7,27.9,27.5,28.0,27.8,27.3,27.9,28.1,27.6,27.8,28.0,27.5,27.9,27.7,28.2,27.6,27.8,27.4,28.0,27.7,
27.9,27.5,28.1,27.7,27.8,28.0,27.4,27.9,27.6,28.1,27.8,27.5,28.0,27.7,27.9,27.3,28.1,27.8,27.6,28.0,27.7,27.9,27.5,28.1,27.8,
27.6,28.0,27.7,27.9,27.4,28.1,27.8,27.6,28.0,27.5,27.9,28.2,27.7,27.8,27.4,28.0,27.6,27.9,28.1,27.5,27.8,27.7,28.0,27.4,27.9,
27.7,28.1,27.5,27.9,27.8,27.6,28.0,27.4,27.9,28.1,27.6,27.8,27.5,28.0,27.7,27.9,27.3,28.1,27.8,27.6,28.0,27.7,27.9,27.5,27.8];
const p3Pink = [28.3,29.0,28.1,28.6,27.9,28.8,28.2,29.4,28.0,28.5,28.9,28.1,28.4,27.8,29.1,28.3,28.6,28.0,28.7,29.2,28.2,28.5,27.9,28.8,28.3,
28.6,28.1,29.0,28.4,27.9,28.7,28.2,28.5,29.3,28.0,28.6,28.3,28.9,28.1,28.4,27.8,28.7,29.1,28.2,28.5,28.0,28.8,28.3,28.6,29.0,
28.1,28.4,28.7,28.0,28.5,28.9,28.2,28.6,28.3,29.2,28.0,28.5,28.2,28.8,28.1,28.4,28.9,28.0,28.6,28.3,29.0,28.2,28.5,27.9,28.7,
28.4,29.1,28.1,28.6,28.3,28.8,27.9,28.5,29.3,28.2,28.6,28.0,28.9,28.3,28.5,28.1,29.0,28.4,28.7,27.9,28.6,28.2,29.2,28.0,28.5,
28.8,28.2,28.6,29.0,28.1,28.4,28.7,27.9,28.5,29.1,28.3,28.6,28.0,28.8,28.2,29.3,28.4,28.1,28.7,28.5,28.9,28.0,28.6,28.3,29.0,
28.1,28.4,28.0,28.7,27.9,28.2,27.6,28.0,27.7,28.2,27.4,27.9,27.7,28.1,27.5,27.8,28.0,27.3,27.9,27.6,28.1,27.5,27.8,28.0,27.4,
27.9,27.6,28.1,27.3,27.8,28.0,27.5,27.7,28.2,27.4,27.9,27.6,28.0,27.2,27.8,27.7,28.1,27.5,27.9,27.6,28.0,27.3,27.8,28.1,27.5,
27.7,28.0,27.4,27.9,27.6,28.2,27.5,27.8,27.3,28.0,27.7,27.9,27.4,28.1,27.6,27.8,28.0,27.2,27.9,27.5,27.7,28.1,27.6,27.8,27.4,
28.0,27.5,27.8,27.6,28.1,27.3,27.9,27.7,28.0,27.5,27.8,28.2,27.4,27.9,27.6,28.0,27.3,27.8,27.7,28.1,27.5,27.9,27.6,28.0,27.4,
27.8,28.0,27.5,27.9,27.7,28.2,27.4,27.8,27.6,28.0,27.3,27.9,27.7,28.1,27.5,27.8,28.0,27.6,27.9,27.4,28.1,27.7,27.8,27.5,27.9];

// text annotations (x in cycles, y in value units)
const p1Notes = [{text:'glass', x:41.5, y:41.4}];
const p2Notes = [{text:'glass', x:23.6, y:40.4}, {text:'air', x:96.5, y:43.7}];
const p3Notes = [{text:'air', x:25.55, y:43.06}, {text:'glass', x:98.8, y:41.6}];

// ---------- STYLE / BUILD ----------
const channelStyle = [
  {key:'magenta', color:'#c42fc4', off:0.02},
  {key:'pink',    color:'#ef3f8f', off:0.10},
  {key:'orange',  color:'#f5a524', off:0.18},
  {key:'cyan',    color:'#2bb7ea', off:0.26},
  {key:'red',     color:'#e53935', off:0.34},
  {key:'gray',    color:'#8a8a6c', off:0.42}
];

function spikePoints(peaks, base) {
  const pts = [];
  peaks.forEach((p, i) => { pts.push({x:i+0.25, y:base}, {x:i+0.45, y:p}, {x:i+0.65, y:base}); });
  return pts;
}
function channelPoints(vals, off) { return vals.map((v, j) => ({x:j/samplesPerCycle+off, y:v})); }

function notesPlugin(notes) {
  return {
    id:'notes',
    afterDraw(chart) {
      const {ctx} = chart, xs = chart.scales.x, ys = chart.scales.y;
      ctx.save();
      ctx.font = '24px "DejaVu Sans"';
      ctx.fillStyle = '#111';
      ctx.textAlign = 'center';
      ctx.textBaseline = 'alphabetic';
      notes.forEach(n => ctx.fillText(n.text, xs.getPixelForValue(n.x), ys.getPixelForValue(n.y)));
      ctx.restore();
    }
  };
}

function build(id, panel) {
  const ds = channelStyle.map(c => ({
    label:c.key, data:channelPoints(panel.channels[c.key], c.off),
    borderColor:c.color, borderWidth:1.5, pointRadius:0, fill:false, tension:0
  }));
  ds.push({label:'black', data:spikePoints(panel.peaks, panel.base), borderColor:'#222', borderWidth:1.6, pointRadius:0, fill:false, tension:0});
  new Chart(document.getElementById(id), {
    type:'line',
    data:{datasets:ds},
    options:{
      responsive:true, maintainAspectRatio:false, animation:false,
      parsing:false, normalized:true, events:[],
      layout:{padding:panel.padding},
      plugins:{legend:{display:false}, tooltip:{enabled:false}},
      scales:{
        x:{type:'linear', min:0, max:periods,
           ticks:{display:false, stepSize:25},
           grid:{color:'#ededed', drawTicks:false},
           border:{display:false},
           afterFit:s => { s.height = 0; s.paddingLeft = 0; s.paddingRight = 0; }},
        y:{type:'linear', min:panel.yMin, max:panel.yMax,
           afterBuildTicks:s => { s.ticks = yTickValues.map(v => ({value:v})); },
           afterFit:s => { s.width = panel.axisWidth; s.paddingTop = 0; s.paddingBottom = 0; },
           ticks:{callback:v => Number(v).toFixed(1), font:{family:'"DejaVu Sans Mono", monospace', size:11}, color:'#333', padding:4},
           grid:{color:'#e2e2e2', tickColor:'#555', tickLength:6},
           border:{display:true, color:panel.axisColor, width:1, dash:[4,3]}}
      }
    },
    plugins:[notesPlugin(panel.notes)]
  });
}

build('c1', {peaks:p1Black, base:p1Base, channels:{orange:p1Orange, red:p1Red, magenta:p1Magenta, cyan:p1Cyan, gray:p1Gray, pink:p1Pink},
  yMin:23.47, yMax:47.34, axisWidth:47, axisColor:'#444', padding:{top:5, right:14, bottom:0, left:0}, notes:p1Notes});
build('c2', {peaks:p2Black, base:p2Base, channels:{orange:p2Orange, red:p2Red, magenta:p2Magenta, cyan:p2Cyan, gray:p2Gray, pink:p2Pink},
  yMin:23.90, yMax:47.32, axisWidth:47, axisColor:'#444', padding:{top:5, right:2, bottom:3, left:0}, notes:p2Notes});
build('c3', {peaks:p3Black, base:p3Base, channels:{orange:p3Orange, red:p3Red, magenta:p3Magenta, cyan:p3Cyan, gray:p3Gray, pink:p3Pink},
  yMin:25.45, yMax:46.45, axisWidth:46, axisColor:'#bbb', padding:{top:23, right:14, bottom:0, left:0}, notes:p3Notes});
</script>
</body></html>
